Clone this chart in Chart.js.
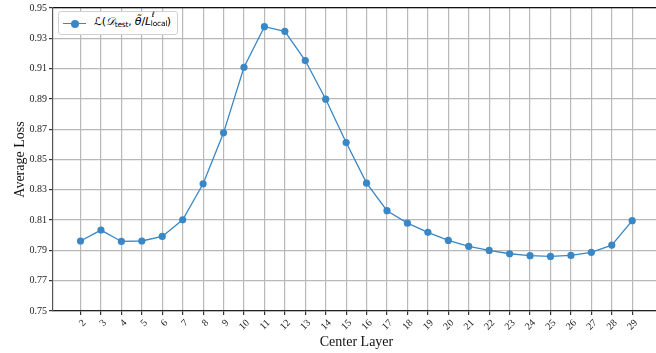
<!DOCTYPE html>
<html>
<head>
<meta charset="utf-8">
<script src="https://cdn.jsdelivr.net/npm/chart.js@4.4.1/dist/chart.umd.min.js"></script>
<style>
    html, body { margin: 0; padding: 0; background: #fff; overflow: hidden; }
    #wrap { position: relative; width: 664px; height: 353px; }
    #legendBox {
        position: absolute; left: 58px; top: 11px; width: 120px; height: 24px;
        box-sizing: border-box; border: 1px solid #d0d0d0; border-radius: 3px; background: #fff;
        font-family: 'DejaVu Sans', sans-serif; font-size: 11px; color: #000;
    }
    #legendBox .sym { position: absolute; left: 4px; top: 11px; width: 23px; height: 0; border-top: 1.3px solid #3a87c6; }
    #legendBox .dot { position: absolute; left: 12px; top: 7.5px; width: 8px; height: 8px; border-radius: 50%; background: #3a87c6; }
    #legendBox .txt { position: absolute; left: 35px; top: 3px; white-space: nowrap; letter-spacing: -0.2px; }
    #legendBox i { font-style: italic; }
    #legendBox sub { font-size: 7.5px; vertical-align: -2px; }
    #legendBox .ss { position: relative; display: inline-block; width: 16px; height: 10px; }
    #legendBox .ss .sp { position: absolute; left: 1px; top: -5px; font-size: 7.5px; font-style: italic; }
    #legendBox .ss .sb { position: absolute; left: 0; top: 4px; font-size: 7.5px; }
</style>
</head>
<body>
<div id="wrap">
    <canvas id="lossChart" width="664" height="353"></canvas>
    <div id="legendBox">
        <span class="sym"></span><span class="dot"></span>
        <span class="txt"><i>ℒ</i>(<i>𝒟</i><sub>test</sub>, <i>θ̃</i>/<i>L</i><span class="ss"><span class="sp">ℓ</span><span class="sb">local</span></span>)</span>
    </div>
</div>
<script>
var layers = [2, 3, 4, 5, 6, 7, 8, 9, 10, 11, 12, 13, 14, 15, 16, 17, 18, 19, 20, 21, 22, 23, 24, 25, 26, 27, 28, 29];
var avgLoss = [0.7962, 0.8034, 0.7959, 0.7962, 0.7992, 0.8102, 0.8340, 0.8676, 0.9109, 0.9377,
    0.9346, 0.9153, 0.8898, 0.8612, 0.8344, 0.8162, 0.8080, 0.8019, 0.7966, 0.7926,
    0.7900, 0.7878, 0.7865, 0.7860, 0.7867, 0.7887, 0.7935, 0.8096];
var yTicks = [0.75, 0.77, 0.79, 0.81, 0.83, 0.85, 0.87, 0.89, 0.91, 0.93, 0.95];

var serif = "'Liberation Serif', 'DejaVu Serif', serif";
var lineColor = '#3a87c6';

document.addEventListener('DOMContentLoaded', function () {
    var ctx = document.getElementById('lossChart');
    new Chart(ctx, {
        type: 'line',
        data: {
            datasets: [{
                label: 'loss',
                data: layers.map(function (l, i) { return { x: l, y: avgLoss[i] }; }),
                borderColor: lineColor,
                backgroundColor: lineColor,
                borderWidth: 1.3,
                pointRadius: 3.6,
                pointBorderWidth: 0,
                tension: 0
            }]
        },
        options: {
            responsive: false,
            animation: false,
            events: [],
            layout: { padding: { top: 6, right: 0, bottom: 0, left: 0 } },
            plugins: { legend: { display: false }, tooltip: { enabled: false } },
            scales: {
                x: {
                    type: 'linear',
                    min: 0.653,
                    max: 30.36,
                    afterBuildTicks: function (scale) {
                        scale.ticks = layers.map(function (v) { return { value: v }; });
                    },
                    afterFit: function (scale) { scale.height = 42; },
                    grid: { color: '#b8b8b8', lineWidth: 1.2, tickLength: 4, tickColor: '#333' },
                    border: { color: '#222', width: 1.2 },
                    ticks: {
                        autoSkip: false,
                        minRotation: 45,
                        maxRotation: 45,
                        padding: 2,
                        labelOffset: 4,
                        color: '#222',
                        font: { family: serif, size: 10 },
                        callback: function (v) { return String(v); }
                    },
                    title: {
                        display: true,
                        text: 'Center Layer',
                        color: '#111',
                        padding: { top: 0, bottom: 2 },
                        font: { family: serif, size: 14 }
                    }
                },
                xTop: {
                    type: 'linear',
                    position: 'top',
                    min: 0.653,
                    max: 30.36,
                    afterFit: function (scale) { scale.height = 0; },
                    grid: { display: false },
                    ticks: { display: false },
                    border: { color: '#111', width: 1.2 }
                },
                y: {
                    min: 0.75,
                    max: 0.95,
                    afterBuildTicks: function (scale) {
                        scale.ticks = yTicks.map(function (v) { return { value: v }; });
                    },
                    afterFit: function (scale) { scale.width = 53; },
                    grid: { color: '#b8b8b8', lineWidth: 1.2, tickLength: 4, tickColor: '#333' },
                    border: { color: '#555', width: 1.2 },
                    ticks: {
                        padding: 2,
                        color: '#222',
                        font: { family: serif, size: 10 },
                        callback: function (v) { return v.toFixed(2); }
                    },
                    title: {
                        display: true,
                        text: 'Average Loss',
                        color: '#111',
                        padding: { top: 12, bottom: 0 },
                        font: { family: serif, size: 14 }
                    }
                }
            }
        }
    });
});
</script>
</body>
</html>
